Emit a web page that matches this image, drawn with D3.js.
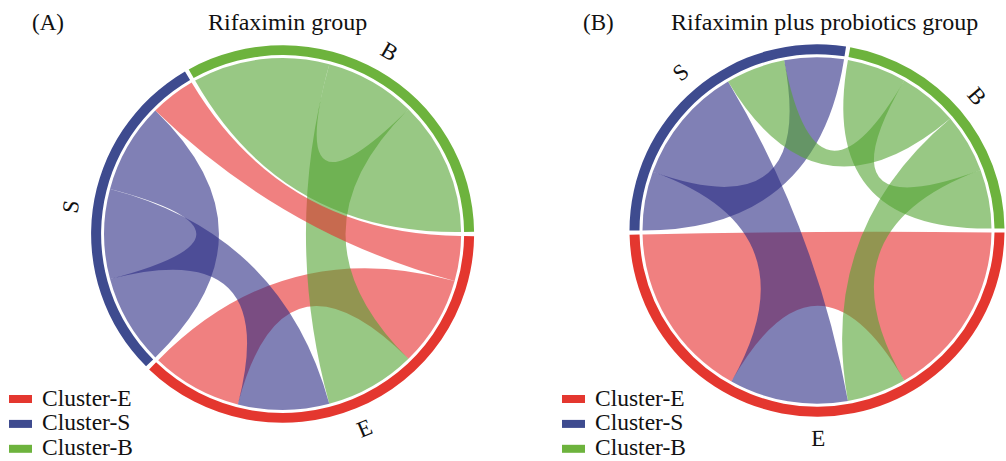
<!DOCTYPE html>
<html>
<head>
<meta charset="utf-8">
<script src="https://cdn.jsdelivr.net/npm/d3@7"></script>
<style>
  body { margin: 0; background: #ffffff; }
  svg text { font-family: "Liberation Serif", "Times New Roman", serif; fill: #111111; }
</style>
</head>
<body>
<svg id="chart" width="1006" height="461"></svg>
<script>
// Cluster names, in clockwise order around each circle
const clusters = ["E", "S", "B"];
const legendLabels = ["Cluster-E", "Cluster-S", "Cluster-B"];
const ringColors = ["#E4372F", "#3E4B8F", "#6DB33D"];
const ribbonColors = ["#E62B2B", "#2B2B84", "#53A332"];

// Transitions between clusters: rows = from, columns = to (E, S, B)
const flowsA = [[2, 1, 0], [2, 2, 0], [2, 0, 3]];
const flowsB = [[6, 0, 0], [4, 2, 0], [2, 2, 2]];

// Clockwise order of ribbon ends inside each cluster ("o:X" outgoing to X, "i:X" incoming from X)
const endOrderA = [["o:S", "o:E", "i:B", "i:S", "i:E"], ["o:S", "o:E", "i:S", "i:E"], ["o:B", "o:E", "i:B"]];
const endOrderB = [["o:E", "i:B", "i:S", "i:E"], ["o:S", "o:E", "i:B", "i:S"], ["o:B", "o:S", "o:E", "i:B"]];

const tags = ["(A)", "(B)"];
const titles = ["Rifaximin group", "Rifaximin plus probiotics group"];

const svg = d3.select("#chart");
const DEG = Math.PI / 180;

// Angular layout of cluster sectors and ribbon ends
function layout(flows, order, padDeg, startDeg) {
  const n = clusters.length;
  const total = 2 * d3.sum(flows.flat());
  const pad = padDeg * DEG;
  const offset = startDeg * DEG + pad / 2;
  const angle = d3.scaleLinear().domain([0, total]).range([0, 2 * Math.PI - n * pad]);
  let cursor = 0;
  const groups = [];
  const ends = {};
  clusters.forEach((c, i) => {
    const g0 = cursor;
    const shift = offset + i * pad;
    order[i].forEach(key => {
      const [dir, other] = key.split(":");
      const j = clusters.indexOf(other);
      const v = dir === "o" ? flows[i][j] : flows[j][i];
      const id = dir === "o" ? `${i}>${j}:s` : `${j}>${i}:t`;
      ends[id] = { startAngle: angle(cursor) + shift, endAngle: angle(cursor + v) + shift, value: v };
      cursor += v;
    });
    groups.push({ index: i, startAngle: angle(g0) + shift, endAngle: angle(cursor) + shift });
  });
  const ribbons = [];
  flows.forEach((row, i) => row.forEach((v, j) => {
    if (v > 0) ribbons.push({ from: i, to: j, value: v, source: ends[`${i}>${j}:s`], target: ends[`${i}>${j}:t`] });
  }));
  // larger flows underneath, smaller ones on top
  ribbons.sort((a, b) => b.value - a.value);
  return { groups, ribbons };
}

function drawPanel(cfg) {
  const { groups, ribbons } = layout(cfg.flows, cfg.order, 1.3, 90);
  const g = svg.append("g").attr("transform", `translate(${cfg.cx},${cfg.cy})`);
  const circle = g.append("g").attr("transform", `scale(1,${cfg.sy})`);

  const ribbon = d3.ribbon().radius(cfg.r - 13);
  circle.append("g").selectAll("path")
    .data(ribbons)
    .join("path")
    .attr("d", ribbon)
    .attr("fill", d => ribbonColors[d.from])
    .attr("fill-opacity", 0.6);

  const arc = d3.arc().innerRadius(cfg.r - 10).outerRadius(cfg.r);
  circle.append("g").selectAll("path")
    .data(groups)
    .join("path")
    .attr("d", arc)
    .attr("fill", d => ringColors[d.index]);

  // sector names placed outside the ring, turned along the circle
  g.append("g").selectAll("text")
    .data(groups)
    .join("text")
    .attr("transform", d => {
      const m = (d.startAngle + d.endAngle) / 2;
      const rr = cfg.r + 22;
      const x = rr * Math.sin(m), y = -rr * Math.cos(m) * cfg.sy;
      const deg = (m / DEG) % 360;
      const rot = Math.cos(m) >= 0 ? deg : deg - 180;
      return `translate(${x},${y}) rotate(${rot})`;
    })
    .attr("text-anchor", "middle")
    .attr("dominant-baseline", "central")
    .style("font-size", "23px")
    .text(d => clusters[d.index]);

  // panel tag and title
  svg.append("text").attr("x", cfg.tagX).attr("y", 30).style("font-size", "23px").text(cfg.tag);
  svg.append("text").attr("x", cfg.titleX).attr("y", 30).style("font-size", "24px").text(cfg.title);

  // legend
  const lg = svg.append("g").attr("transform", `translate(${cfg.legendX},399)`);
  const row = lg.selectAll("g").data(legendLabels).join("g")
    .attr("transform", (d, i) => `translate(0,${i * 24.9})`);
  row.append("rect").attr("x", 0).attr("y", -4).attr("width", 23).attr("height", 8)
    .attr("fill", (d, i) => ringColors[i]);
  row.append("text").attr("x", 33).attr("y", 6.5).style("font-size", "23.5px").text(d => d);
}

drawPanel({ flows: flowsA, order: endOrderA, cx: 282.6, cy: 234, r: 191.5, sy: 0.986,
  tag: tags[0], title: titles[0], tagX: 32, titleX: 208, legendX: 9 });
drawPanel({ flows: flowsB, order: endOrderB, cx: 817, cy: 230.5, r: 187.5, sy: 0.993,
  tag: tags[1], title: titles[1], tagX: 583, titleX: 671, legendX: 562 });
</script>
</body>
</html>
